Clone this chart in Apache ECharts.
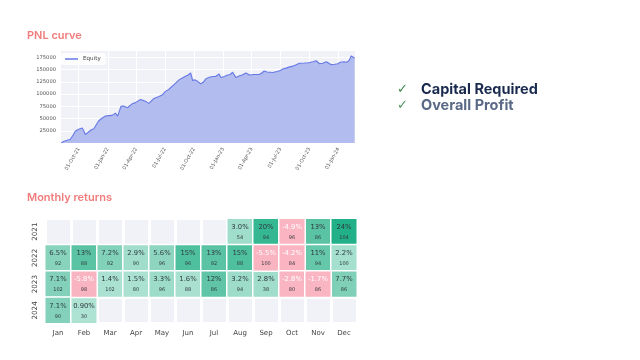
<!DOCTYPE html>
<html>
<head>
<meta charset="utf-8">
<script src="https://cdn.jsdelivr.net/npm/echarts@6/dist/echarts.min.js"></script>
<style>
html,body{margin:0;padding:0;background:#fff;}
#c{width:640px;height:360px;}
</style>
</head>
<body>
<div id="c"></div>
<script>
// ---- PNL curve data ----
var equityDates = [
'2021-08-07','2021-08-14','2021-08-20','2021-08-28','2021-09-04','2021-09-10','2021-09-15','2021-09-20','2021-09-28','2021-10-05',
'2021-10-12','2021-10-17','2021-10-22','2021-10-28','2021-11-02','2021-11-10','2021-11-18','2021-11-24','2021-12-03','2021-12-12',
'2021-12-25','2022-01-05','2022-01-15','2022-01-25','2022-02-01','2022-02-06','2022-02-12','2022-02-20','2022-02-26','2022-03-04',
'2022-03-09','2022-03-19','2022-03-28','2022-04-07','2022-04-15','2022-04-24','2022-05-01','2022-05-11','2022-05-19','2022-05-27',
'2022-06-12','2022-06-22','2022-07-03','2022-07-12','2022-07-24','2022-08-03','2022-08-14','2022-08-25','2022-09-05','2022-09-12',
'2022-09-20','2022-09-23','2022-09-26','2022-10-04','2022-10-12','2022-10-22','2022-10-30','2022-11-07','2022-11-16','2022-11-28',
'2022-12-08','2022-12-19','2022-12-25','2023-01-05','2023-01-15','2023-01-23','2023-01-31','2023-02-05','2023-02-10','2023-02-20',
'2023-03-02','2023-03-14','2023-03-20','2023-03-25','2023-03-30','2023-04-10','2023-04-25','2023-05-03','2023-05-11','2023-05-20',
'2023-06-07','2023-06-20','2023-07-01','2023-07-08','2023-07-19','2023-07-28','2023-08-09','2023-08-20','2023-08-30','2023-09-15',
'2023-09-28','2023-10-12','2023-10-22','2023-11-02','2023-11-12','2023-11-23','2023-12-01','2023-12-09','2023-12-20','2023-12-30',
'2024-01-06','2024-01-10','2024-01-18','2024-01-26','2024-02-03','2024-02-10','2024-02-14','2024-02-21'
];
var equityValues = [
0,3000,4000,6000,7000,9600,18000,24000,27000,29000,
30500,25000,17000,21000,23000,27000,29000,33000,45000,50000,
55000,56000,56500,61000,55000,64000,75000,75500,76000,72000,
70000,80000,82000,86000,89000,87000,85000,81000,86000,91000,
95000,98000,106000,109000,116000,122000,129000,133000,137000,139000,
143000,137000,128000,129000,126000,121000,124000,131000,134000,136000,
136000,141000,134000,136000,139000,140000,144500,143000,134000,137000,
139000,143000,145000,139000,137000,140000,140000,143000,147000,145000,
144000,146000,148000,151000,153000,155000,157000,160000,163000,163500,
164000,166000,168000,162000,163000,166000,163000,160000,161000,162000,
165000,167000,166000,165000,168000,178000,174000,173000
];
var xTickDates = ['2021-10-01','2022-01-01','2022-04-01','2022-07-01','2022-10-01','2023-01-01','2023-04-01','2023-07-01','2023-10-01','2024-01-01'];
var yTicks = [25000,50000,75000,100000,125000,150000,175000];

// ---- Monthly returns data ----
var months = ['Jan','Feb','Mar','Apr','May','Jun','Jul','Aug','Sep','Oct','Nov','Dec'];
var years = ['2021','2022','2023','2024'];
var returns2021 = [null,null,null,null,null,null,null,3.0,20,-4.9,13,24];
var returns2022 = [6.5,13,7.2,2.9,5.6,15,13,15,-5.5,-4.2,11,2.2];
var returns2023 = [7.1,-5.8,1.4,1.5,3.3,1.6,12,3.2,2.8,-2.8,-1.7,7.7];
var returns2024 = [7.1,0.90,null,null,null,null,null,null,null,null,null,null];
var trades2021 = [null,null,null,null,null,null,null,54,94,96,86,104];
var trades2022 = [92,88,92,90,96,96,92,88,100,84,94,100];
var trades2023 = [102,98,102,80,96,88,86,94,38,80,86,86];
var trades2024 = [90,30,null,null,null,null,null,null,null,null,null,null];

var allReturns = [returns2021, returns2022, returns2023, returns2024];
var allTrades = [trades2021, trades2022, trades2023, trades2024];

function ts(s){ return Date.parse(s + 'T00:00:00Z'); }
var lineData = equityDates.map(function(d,i){ return [ts(d), equityValues[i]]; });
var posData = [], negData = [];
allReturns.forEach(function(row, yi){
  row.forEach(function(v, mi){
    if (v === null) return;
    var item = [mi, yi, v, allTrades[yi][mi]];
    if (v >= 0) posData.push(item); else negData.push(item);
  });
});

var MON = ['Jan','Feb','Mar','Apr','May','Jun','Jul','Aug','Sep','Oct','Nov','Dec'];
function fmtDate(val){
  var d = new Date(val);
  var dd = ('0' + d.getUTCDate()).slice(-2);
  var yy = String(d.getUTCFullYear()).slice(-2);
  return dd + '-' + MON[d.getUTCMonth()] + '-' + yy;
}
var xTickValues = xTickDates.map(ts);

function cellLabel(p){
  var v = p.data[2];
  var s = (Math.abs(v) < 1 ? v.toPrecision(2) : (Math.abs(v) >= 10 ? Math.round(v).toString() : v.toFixed(1))) + '%';
  return '{a|' + s + '}\n{b|' + p.data[3] + '}';
}

var chart = echarts.init(document.getElementById('c'), null, {renderer:'canvas'});
var FONT = 'Inter, "Noto Sans", sans-serif';
var AXFONT = '"DejaVu Sans", sans-serif';

chart.setOption({
  animation: false,
  backgroundColor: '#ffffff',
  title: [
    {text: 'PNL curve', left: 22, top: 25, textStyle: {fontFamily: FONT, fontSize: 11, fontWeight: 600, color: '#f27b7b'}},
    {text: 'Monthly returns', left: 22, top: 187, textStyle: {fontFamily: FONT, fontSize: 11, fontWeight: 600, color: '#f27b7b'}}
  ],
  graphic: [
    {type: 'text', left: 397, top: 83, style: {text: '✓', fontSize: 13, fontFamily: '"DejaVu Sans", sans-serif', fill: '#3d8b4f'}},
    {type: 'text', left: 397, top: 99, style: {text: '✓', fontSize: 13, fontFamily: '"DejaVu Sans", sans-serif', fill: '#4f955f'}},
    {type: 'text', left: 421, top: 82, style: {text: 'Capital Required', fontSize: 14.5, fontWeight: 'bold', fontFamily: FONT, fill: '#1a2a4e'}},
    {type: 'text', left: 421, top: 98, style: {text: 'Overall Profit', fontSize: 14.5, fontWeight: 'bold', fontFamily: FONT, fill: '#5a6a86'}}
  ],
  legend: {
    data: ['Equity'], left: 61, top: 53, orient: 'vertical',
    backgroundColor: 'rgba(255,255,255,0.85)', borderRadius: 2, padding: [3, 5, 3, 4],
    itemWidth: 13, itemHeight: 1.5, itemGap: 2,
    textStyle: {fontFamily: AXFONT, fontSize: 5.6, color: '#444'},
    icon: 'rect'
  },
  grid: [
    {left: 61, top: 50, width: 294, height: 93, show: true, backgroundColor: '#f1f2f8', borderWidth: 0},
    {left: 45, top: 218.5, width: 312, height: 105, show: true, backgroundColor: '#f1f2f7', borderWidth: 0}
  ],
  visualMap: [
    {type: 'continuous', show: false, seriesIndex: 1, min: 0, max: 24, dimension: 2,
     inRange: {color: ['#b4e5d7', '#8bd4be', '#5fc5a6', '#3fbb96', '#22b088']}},
    {type: 'continuous', show: false, seriesIndex: 2, min: -10, max: 0, dimension: 2,
     inRange: {color: ['#f9b2c0', '#fab6c3']}}
  ],
  xAxis: [
    {type: 'value', gridIndex: 0, min: ts('2021-08-06'), max: ts('2024-02-22'),
     axisLine: {show: false}, axisTick: {show: false, customValues: xTickValues},
     splitLine: {show: true, lineStyle: {color: '#ffffff', width: 1}},
     axisLabel: {customValues: xTickValues, rotate: 60, fontSize: 5, fontFamily: AXFONT, color: '#555', margin: 5,
       formatter: function(v){ return fmtDate(v); }}},
    {type: 'category', gridIndex: 1, data: months, position: 'bottom',
     axisLine: {show: false}, axisTick: {show: false},
     splitLine: {show: true, lineStyle: {color: '#ffffff', width: 3}},
     axisLabel: {fontSize: 7, fontFamily: AXFONT, color: '#444', margin: 6}},
    {type: 'value', gridIndex: 1, min: 0, max: 24, interval: 1, show: false,
     splitLine: {show: true, lineStyle: {color: '#ffffff', width: 1}}}
  ],
  yAxis: [
    {type: 'value', gridIndex: 0, min: 0, max: 190000, interval: 25000,
     axisLine: {show: false}, axisTick: {show: false},
     splitLine: {show: true, lineStyle: {color: '#ffffff', width: 1}},
     axisLabel: {fontSize: 5.2, fontFamily: AXFONT, color: '#555', margin: 5,
       formatter: function(v){ return yTicks.indexOf(v) >= 0 ? String(v) : ''; }}},
    {type: 'category', gridIndex: 1, data: years, inverse: true,
     axisLine: {show: false}, axisTick: {show: false},
     splitLine: {show: true, lineStyle: {color: '#ffffff', width: 3}},
     axisLabel: {fontSize: 7.2, fontFamily: AXFONT, color: '#444', rotate: 90, margin: 6}},
    {type: 'value', gridIndex: 1, min: 0, max: 8, interval: 1, show: false,
     splitLine: {show: true, lineStyle: {color: '#ffffff', width: 1}}}
  ],
  series: [
    {name: 'Equity', type: 'line', xAxisIndex: 0, yAxisIndex: 0, data: lineData,
     showSymbol: false, symbol: 'none',
     lineStyle: {color: '#6578e6', width: 1.1},
     itemStyle: {color: '#6578e6'},
     areaStyle: {color: '#b3bcee', opacity: 1}},
    {type: 'heatmap', xAxisIndex: 1, yAxisIndex: 1, data: posData,
     itemStyle: {borderColor: '#ffffff', borderWidth: 1.5},
     label: {show: true, formatter: cellLabel,
       rich: {a: {fontSize: 6.8, fontFamily: AXFONT, color: '#2e3b3f', lineHeight: 12},
              b: {fontSize: 5, fontFamily: AXFONT, color: '#2e3b3f', lineHeight: 9}}}},
    {type: 'heatmap', xAxisIndex: 1, yAxisIndex: 1, data: negData,
     itemStyle: {borderColor: '#ffffff', borderWidth: 1.5},
     label: {show: true, formatter: cellLabel,
       rich: {a: {fontSize: 6.8, fontFamily: AXFONT, color: '#ffffff', lineHeight: 12},
              b: {fontSize: 5, fontFamily: AXFONT, color: '#3a3a3a', lineHeight: 9}}}}
  ]
});
</script>
</body>
</html>
